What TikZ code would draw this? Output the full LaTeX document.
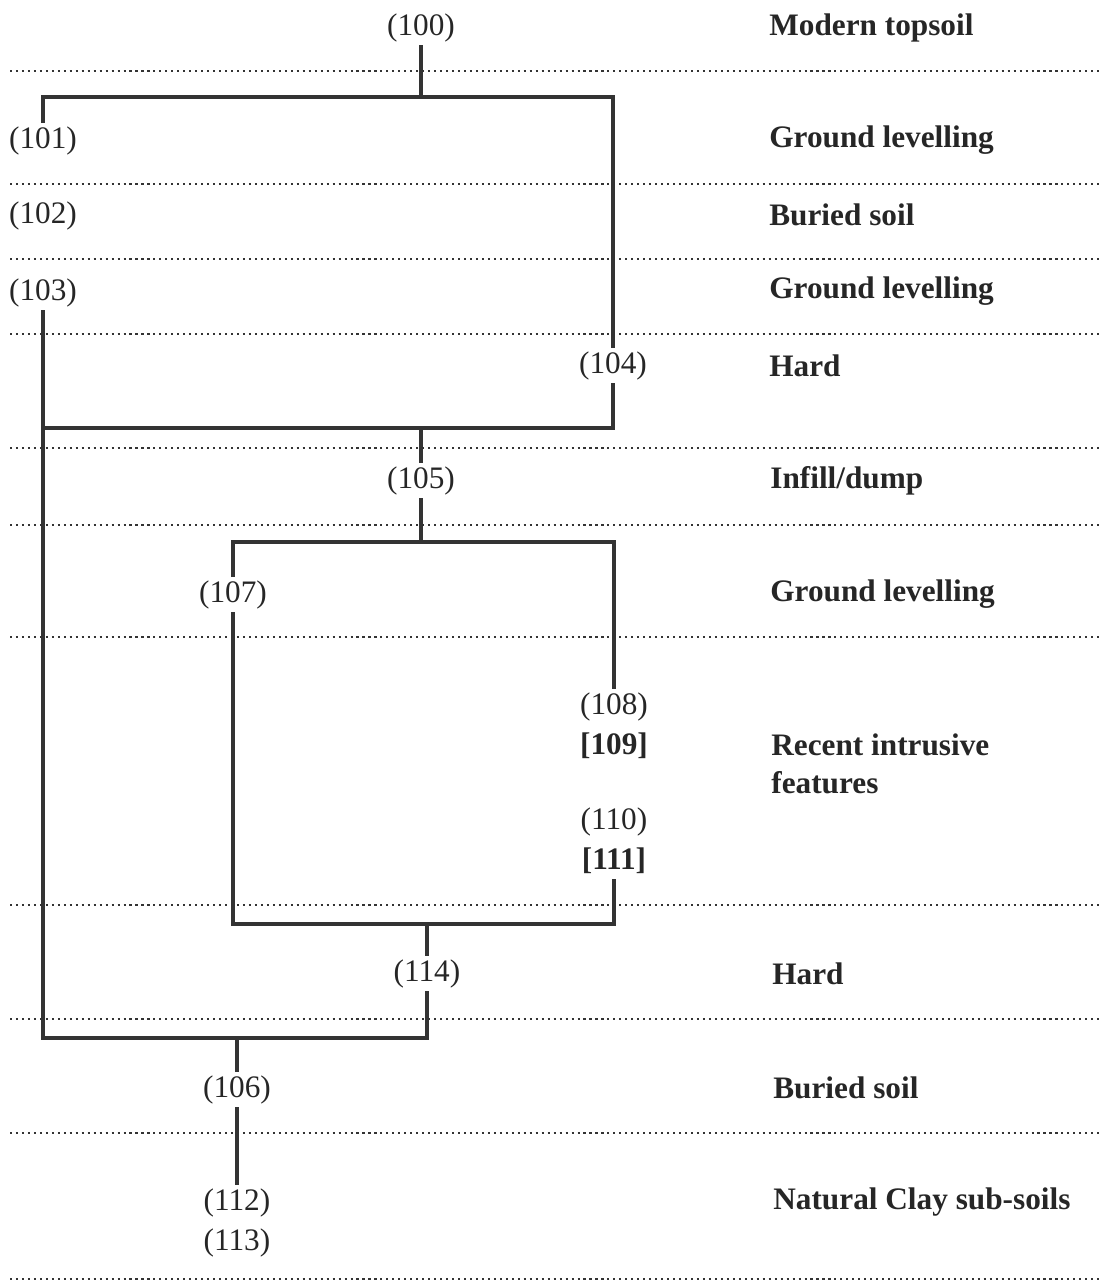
\documentclass[tikz,border=0pt]{standalone}
\usepackage{fontspec}
\setmainfont{Liberation Serif}
\usepackage{tikz}
\usetikzlibrary{positioning,calc}
\tikzset{
  hm/unit/.style={inner sep=1.5pt, text height=12.7pt, text depth=3.9pt, text=black!85,
    yshift=-1.6pt, font=\fontsize{17.8}{21}\selectfont},
  hm/fill/.style={hm/unit, font=\fontsize{17.8}{21}\selectfont\bfseries},
  hm/phase/.style={anchor=west, inner sep=0pt, align=left, text=black!85,
    yshift=-1.6pt, font=\fontsize{17.8}{21.5}\selectfont\bfseries},
  hm/link/.style={line width=2pt, draw=black!80},
  hm/layer/.style={line width=1.3pt, draw=black!80, dash pattern=on 1.2pt off 2.2pt}
}

\begin{document}
\begin{tikzpicture}[x=0.02cm, y=-0.02cm, node distance=1pt]
  \useasboundingbox (0,0) rectangle (1100,1288);

  % layer boundaries
  \foreach \ly in {71,184,259,334,448,525,637,905,1019,1133,1279}
    \draw[hm/layer] (10,\ly) -- (1100,\ly);

  % contexts
  \node[hm/unit] (u100) at (421,25) {(100)};
  \node[hm/unit] (u101) at (43,138) {(101)};
  \node[hm/unit] (u102) at (43,213) {(102)};
  \node[hm/unit] (u103) at (43,290) {(103)};
  \node[hm/unit] (u104) at (613,363) {(104)};
  \node[hm/unit] (u105) at (421,478) {(105)};
  \node[hm/unit] (u107) at (233,592) {(107)};
  \node[hm/unit] (u108) at (614,704) {(108)};
  \node[hm/fill, below=of u108] (u109) {[109]};
  \node[hm/unit] (u110) at (614,819) {(110)};
  \node[hm/fill, below=of u110] (u111) {[111]};
  \node[hm/unit] (u114) at (427,971) {(114)};
  \node[hm/unit] (u106) at (237,1087) {(106)};
  \node[hm/unit] (u112) at (237,1200) {(112)};
  \node[hm/unit, below=of u112] (u113) {(113)};

  % junctions
  \coordinate (j1) at (421,97);
  \coordinate (j2) at (421,428);
  \coordinate (j3) at (421,542);
  \coordinate (j4) at (427,924);
  \coordinate (j5) at (237,1038);

  \draw[hm/link] (u100.south) -- (j1);
  \draw[hm/link] (u101.north) |- (j1) -| (u104.north);
  \draw[hm/link] (u104.south) |- (j2) -- (u103.south |- j2);
  \draw[hm/link] (j2) -- (u105.north);
  \draw[hm/link] (u105.south) -- (j3);
  \draw[hm/link] (u107.north) |- (j3) -| (u108.north);
  \draw[hm/link] (u107.south) |- (j4) -| (u111.south);
  \draw[hm/link] (j4) -- (u114.north);
  \draw[hm/link] (u103.south) |- (j5) -| (u114.south);
  \draw[hm/link] (j5) -- (u106.north);
  \draw[hm/link] (u106.south) -- (u112.north);

  % phases
  \node[hm/phase] (p1) at (769,25) {Modern topsoil};
  \node[hm/phase] (p2) at (769,137) {Ground levelling};
  \node[hm/phase] (p3) at (769,212) {Buried soil};
  \node[hm/phase] (p4) at (769,288) {Ground levelling};
  \node[hm/phase] (p5) at (769,363) {Hard};
  \node[hm/phase] (p6) at (770,478) {Infill/dump};
  \node[hm/phase] (p7) at (770,591) {Ground levelling};
  \node[hm/phase] (p8) at (771,761) {Recent intrusive\\features};
  \node[hm/phase] (p9) at (772,971) {Hard};
  \node[hm/phase] (p10) at (773,1085) {Buried soil};
  \node[hm/phase] (p11) at (773,1199) {Natural Clay sub-soils};
\end{tikzpicture}
\end{document}
